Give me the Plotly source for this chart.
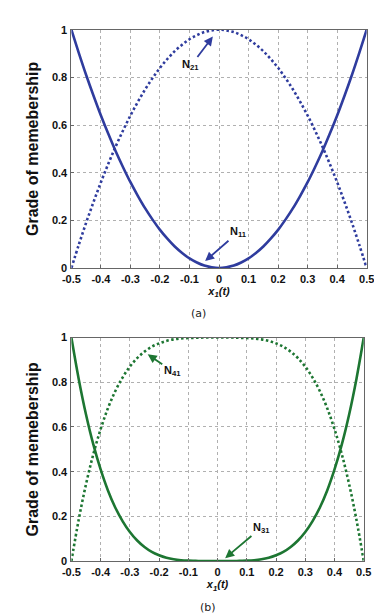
import plotly.graph_objects as go

# x positions (step 0.025)
x_vals = [round(-0.5 + 0.025 * i, 3) for i in range(41)]

# Panel (a) values
n11_half = [1.0, 0.903, 0.81, 0.723, 0.64, 0.563, 0.49, 0.423, 0.36, 0.303, 0.25,
            0.203, 0.16, 0.123, 0.09, 0.063, 0.04, 0.023, 0.01, 0.003, 0.0]
n11 = n11_half + n11_half[-2::-1]
n21 = [0.0, 0.097, 0.19, 0.277, 0.36, 0.437, 0.51, 0.577, 0.64, 0.697, 0.75,
       0.797, 0.84, 0.877, 0.91, 0.937, 0.96, 0.977, 0.99, 0.997, 1.0]
n21 = n21 + n21[-2::-1]

# Panel (b) values
n31_half = [1.0, 0.815, 0.656, 0.522, 0.41, 0.316, 0.24, 0.179, 0.13, 0.092, 0.063,
            0.041, 0.026, 0.015, 0.008, 0.004, 0.002, 0.001, 0.0, 0.0, 0.0]
n31 = n31_half + n31_half[-2::-1]
n41_half = [0.0, 0.185, 0.344, 0.478, 0.59, 0.684, 0.76, 0.821, 0.87, 0.908, 0.937,
            0.959, 0.974, 0.985, 0.992, 0.996, 0.998, 0.999, 1.0, 1.0, 1.0]
n41 = n41_half + n41_half[-2::-1]

x_ticks = [-0.5, -0.4, -0.3, -0.2, -0.1, 0, 0.1, 0.2, 0.3, 0.4, 0.5]
x_tick_labels = ["-0.5", "-0.4", "-0.3", "-0.2", "-0.1", "0", "0.1", "0.2", "0.3", "0.4", "0.5"]
y_ticks = [0, 0.2, 0.4, 0.6, 0.8, 1]
y_tick_labels = ["0", "0.2", "0.4", "0.6", "0.8", "1"]

BLUE = "#2f3c9e"
GREEN = "#1d7632"

fig = go.Figure()
fig.add_trace(go.Scatter(x=x_vals, y=n11, mode="lines", line=dict(color=BLUE, width=2.6, shape="spline"),
                         xaxis="x", yaxis="y", showlegend=False, hoverinfo="skip"))
fig.add_trace(go.Scatter(x=x_vals, y=n21, mode="lines", line=dict(color=BLUE, width=2.6, dash="2.5px,2.5px", shape="spline"),
                         xaxis="x", yaxis="y", showlegend=False, hoverinfo="skip"))
fig.add_trace(go.Scatter(x=x_vals, y=n31, mode="lines", line=dict(color=GREEN, width=2.6, shape="spline"),
                         xaxis="x2", yaxis="y2", showlegend=False, hoverinfo="skip"))
fig.add_trace(go.Scatter(x=x_vals, y=n41, mode="lines", line=dict(color=GREEN, width=2.6, dash="2.5px,2.5px", shape="spline"),
                         xaxis="x2", yaxis="y2", showlegend=False, hoverinfo="skip"))

FAM = "Arial, Liberation Sans, sans-serif"
tickfont = dict(family=FAM, size=11, color="#111", weight="bold")
common_x = dict(range=[-0.5, 0.5], tickvals=x_ticks, ticktext=x_tick_labels,
                showgrid=True, gridcolor="#b0b0b0", griddash="dot", gridwidth=1,
                showline=True, mirror=True, linecolor="#666", linewidth=1,
                ticks="inside", ticklen=3, tickcolor="#666", tickfont=tickfont, zeroline=False,
                ticklabelstandoff=1)
common_y = dict(range=[0, 1], tickvals=y_ticks, ticktext=y_tick_labels,
                showgrid=True, gridcolor="#b0b0b0", griddash="dot", gridwidth=1,
                showline=True, mirror=True, linecolor="#666", linewidth=1,
                ticks="inside", ticklen=3, tickcolor="#666", tickfont=tickfont, zeroline=False,
                ticklabelstandoff=1)

title_font = dict(family=FAM, size=16, color="#111", weight="bold")
xt_font = dict(family=FAM, size=11, color="#111", weight="bold", style="italic")

fig.update_layout(
    width=382, height=616,
    margin=dict(l=0, r=0, t=0, b=0),
    paper_bgcolor="white", plot_bgcolor="white",
    xaxis=dict(common_x, domain=[0.149, 0.958], anchor="y",
               title=dict(text="x<sub>1</sub>(t)", font=xt_font, standoff=0)),
    yaxis=dict(common_y, domain=[0.5795, 0.974], anchor="x",
               title=dict(text="Grade of memebership", font=title_font, standoff=9)),
    xaxis2=dict(common_x, domain=[0.149, 0.950], anchor="y2",
                title=dict(text="x<sub>1</sub>(t)", font=xt_font, standoff=0)),
    yaxis2=dict(common_y, domain=[0.0942, 0.4643], anchor="x2",
                title=dict(text="Grade of memebership", font=title_font, standoff=9)),
)

ann_font = dict(family=FAM, size=11, color="#111", weight="bold")
# Labels with arrows: (xref, yref, arrow head x, head y, label x, label y, text, colour)
labels = [
    ("x", "y", -0.021, 0.971, -0.095, 0.85, "N<sub>21</sub>", BLUE),
    ("x", "y", -0.047, 0.029, 0.065, 0.15, "N<sub>11</sub>", BLUE),
    ("x2", "y2", -0.239, 0.925, -0.155, 0.85, "N<sub>41</sub>", GREEN),
    ("x2", "y2", 0.026, 0.013, 0.15, 0.15, "N<sub>31</sub>", GREEN),
]
for xr, yr, hx, hy, lx, ly, txt, col in labels:
    fig.add_annotation(x=hx, y=hy, ax=lx, ay=ly, xref=xr, yref=yr, axref=xr, ayref=yr,
                       text=txt, font=ann_font, showarrow=True, arrowhead=2, arrowsize=1,
                       arrowwidth=1.8, arrowcolor=col, startstandoff=0)

cap_font = dict(family="DejaVu Sans, sans-serif", size=11, color="#222")
fig.add_annotation(x=190 / 382, y=1 - 305 / 616, xref="paper", yref="paper", text="(a)",
                   showarrow=False, font=cap_font, yanchor="middle")
fig.add_annotation(x=200 / 382, y=1 - 605 / 616, xref="paper", yref="paper", text="(b)",
                   showarrow=False, font=cap_font, yanchor="middle")

fig.write_html("out.html")
